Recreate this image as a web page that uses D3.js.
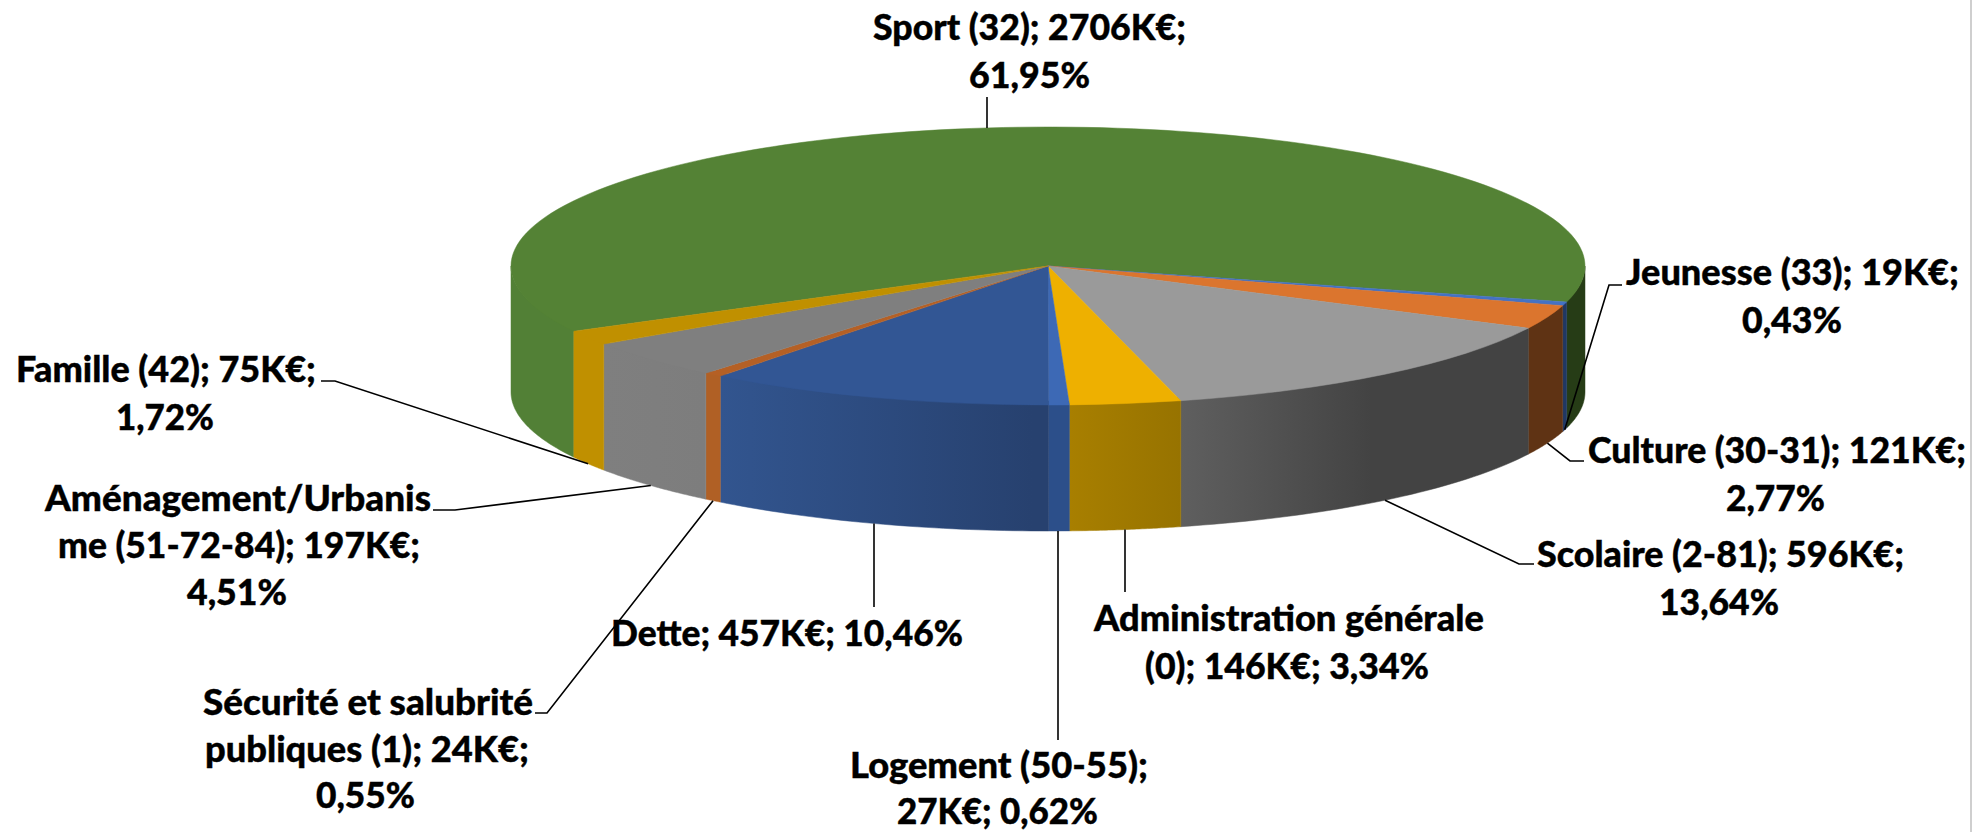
<!DOCTYPE html>
<html>
<head>
<meta charset="utf-8">
<style>
  html, body { margin: 0; background: #fff; }
  svg { display: block; }
</style>
<script src="https://cdn.jsdelivr.net/npm/d3@7"></script>
</head>
<body>
<script>
const categories = ['Sport (32)', 'Jeunesse (33)', 'Culture (30-31)', 'Scolaire (2-81)', 'Administration générale (0)',
    'Logement (50-55)', 'Dette', 'Sécurité et salubrité publiques (1)', 'Aménagement/Urbanisme (51-72-84)', 'Famille (42)']
const amounts = [2706, 19, 121, 596, 146, 27, 457, 24, 197, 75]
const percents = ['61,95%', '0,43%', '2,77%', '13,64%', '3,34%', '0,62%', '10,46%', '0,55%', '4,51%', '1,72%']

// wrapped the way the original labels are, [text, left, right, baseline]
const labelLines = [
    [['Sport (32); 2706K€;', 873, 1186, 40], ['61,95%', 969, 1090, 88]],
    [['Jeunesse (33); 19K€;', 1626, 1959, 285], ['0,43%', 1742, 1842, 333]],
    [['Culture (30-31); 121K€;', 1588, 1966, 463], ['2,77%', 1726, 1825, 511]],
    [['Scolaire (2-81); 596K€;', 1537, 1904, 567], ['13,64%', 1659, 1779, 615]],
    [['Administration générale', 1094, 1484, 631], ['(0); 146K€; 3,34%', 1145, 1429, 679]],
    [['Logement (50-55);', 850, 1148, 778], ['27K€; 0,62%', 897, 1098, 824]],
    [['Dette; 457K€; 10,46%', 611, 963, 646]],
    [['Sécurité et salubrité', 203, 533, 715], ['publiques (1); 24K€;', 205, 529, 762], ['0,55%', 316, 415, 808]],
    [['Aménagement/Urbanis', 45, 431, 511], ['me (51-72-84); 197K€;', 58, 420, 558], ['4,51%', 187, 287, 605]],
    [['Famille (42); 75K€;', 16, 316, 382], ['1,72%', 116, 214, 430]],
]

// elbow points of each leader, the rim end comes from the slice
const leaderBends = [
    [[987, 97]],
    [[1609, 285], [1622, 285]],
    [[1570, 461], [1584, 461]],
    [[1519, 564], [1534, 564]],
    [[1125, 592]],
    [[1058, 740]],
    [[874, 607]],
    [[547, 713], [535, 713]],
    [[455, 510], [433, 510]],
    [[335, 381], [321, 381]],
]

const topColors = ['#548235', '#4472c4', '#db752e', '#9a9a9a', '#eeb000', '#3d69b5', '#325694', '#b56025', '#7f7f7f', '#c09000']
const sideColors = [
    ['#528036', '#263c16'], ['#203864', '#203864'], ['#5f3314', '#5f3314'], ['#5f5f5f', '#434343'], ['#a87f00', '#977300'],
    ['#2c4f8a', '#2c4f8a'], ['#32558f', '#27416f'], ['#b06025', '#b06025'], ['#7f7f7f', '#7d7d7d'], ['#c09000', '#c09000'],
]
// where the wall shading stops getting darker, scolaire goes flat early
const shadeEnds = [1, 1, 1, 0.55, 1, 1, 0.95, 1, 1, 1]

const width = 1987
const height = 832
const centerX = 1048
const centerY = 266
const radiusX = 537
const radiusY = 139
const depth = 126
const firstAngle = 242 * Math.PI / 180   // Sport starts on the left, behind Famille

const svg = d3.select('body').append('svg')
    .attr('width', width)
    .attr('height', height)

const pie = d3.pie()
    .sort(null)
    .startAngle(firstAngle)
    .endAngle(firstAngle + 2 * Math.PI)

const slices = pie(amounts)

const rimX = a => centerX + radiusX * Math.sin(a)
const rimY = a => centerY - radiusY * Math.cos(a)

// only the front half of the wall shows: 90deg to 270deg
const front = [Math.PI / 2, 3 * Math.PI / 2]

function wallPath(a0, a1) {
    const steps = d3.range(0, 41).map(i => a0 + (a1 - a0) * i / 40)
    // the top edge runs a bit under the top face, otherwise a pale seam shows
    const area = d3.area()
        .x(a => rimX(a))
        .y0(a => centerY - (radiusY - 4) * Math.cos(a))
        .y1(a => rimY(a) + depth)
    return area(steps)
}

function frontParts(d) {
    // sport wraps round the back so it can give two pieces
    const parts = []
    for (const shift of [0, 2 * Math.PI]) {
        const a0 = Math.max(d.startAngle - shift, front[0])
        const a1 = Math.min(d.endAngle - shift, front[1])
        if (a1 > a0) parts.push([a0, a1])
    }
    return parts
}

const defs = svg.append('defs')
const walls = svg.append('g')

slices.forEach((d, i) => {
    frontParts(d).forEach((part, j) => {
        const onRight = rimX(part[1]) > centerX + 400
        const id = `wall_${i}_${j}`
        const grad = defs.append('linearGradient')
            .attr('id', id)
            .attr('gradientUnits', 'userSpaceOnUse')
            .attr('x1', rimX(part[1]))
            .attr('x2', rimX(part[0]))
            .attr('y1', 0)
            .attr('y2', 0)
        // the two pieces of sport are lit differently
        const colors = i === 0
            ? (onRight ? [sideColors[0][1], sideColors[0][1]] : [sideColors[0][0], sideColors[0][0]])
            : sideColors[i]
        grad.append('stop').attr('offset', 0).attr('stop-color', colors[0])
        grad.append('stop').attr('offset', shadeEnds[i]).attr('stop-color', colors[1])

        walls.append('path')
            .attr('d', wallPath(part[0], part[1]))
            .attr('fill', `url(#${id})`)
            .attr('stroke', `url(#${id})`)
            .attr('stroke-width', 0.5)
    })
})

const arc = d3.arc()
    .innerRadius(0)
    .outerRadius(radiusX)

svg.append('g')
    .attr('transform', `translate(${centerX},${centerY}) scale(1,${radiusY / radiusX})`)
    .selectAll('path')
    .data(slices)
    .join('path')
        .attr('d', arc)
        .attr('fill', (d, i) => topColors[i])
        .attr('stroke', (d, i) => topColors[i])
        .attr('stroke-width', 0.5)
        .attr('vector-effect', 'non-scaling-stroke')

const line = d3.line()

svg.append('g')
    .attr('fill', 'none')
    .attr('stroke', '#000')
    .attr('stroke-width', 1.6)
    .selectAll('path')
    .data(slices)
    .join('path')
        .attr('d', (d, i) => {
            const mid = (d.startAngle + d.endAngle) / 2
            // the sport leader lands on the back rim, all others on the wall bottom
            const y = rimY(mid) + (i === 0 ? 0 : depth)
            const bends = leaderBends[i]
            // single segment leaders stay vertical
            const x = bends.length === 1 ? bends[0][0] : rimX(mid)
            return line([[x, y], ...bends])
        })

const labels = svg.append('g')
    .attr('font-family', 'Lato, "Liberation Sans Narrow", sans-serif')
    .attr('font-weight', 900)
    .attr('font-size', 36)
    .attr('fill', '#000')
    .attr('stroke', '#000')
    .attr('stroke-width', 0.4)

labels.selectAll('text')
    .data(labelLines.flat())
    .join('text')
        .attr('x', d => d[1])
        .attr('y', d => d[3])
        .attr('textLength', d => d[2] - d[1])
        .attr('lengthAdjust', 'spacingAndGlyphs')
        .text(d => d[0])

// grey rule down the right of the page
svg.append('line')
    .attr('x1', 1971)
    .attr('x2', 1971)
    .attr('y1', 0)
    .attr('y2', height)
    .attr('stroke', '#cfcfcf')
    .attr('stroke-width', 2)
</script>
</body>
</html>
